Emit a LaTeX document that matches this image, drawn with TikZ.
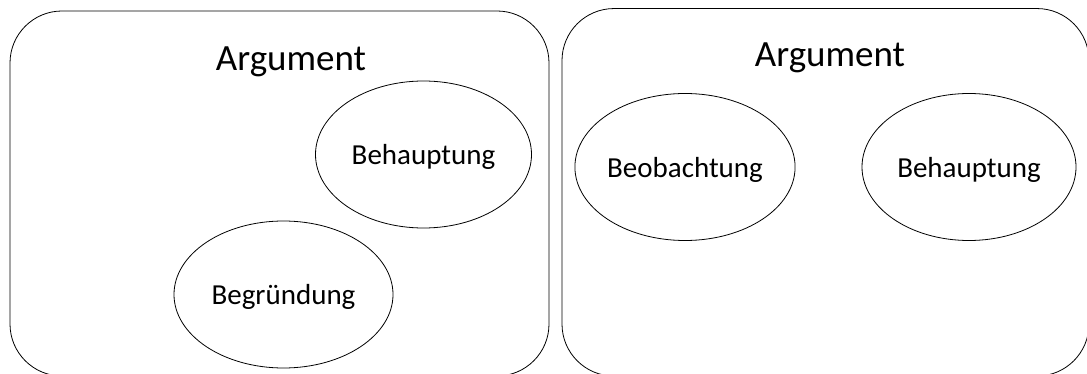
\documentclass[tikz,border=0pt]{standalone}
\usepackage{fontspec}
\setmainfont{Carlito}
\usetikzlibrary{shapes.geometric}
\begin{document}
\begin{tikzpicture}[x=1pt, y=-1pt, line width=0.8pt, node distance=284pt,
    argbox/.style={draw, rounded corners=52pt, inner sep=0pt},
    part/.style={ellipse, draw, inner sep=0pt, text depth=0pt, minimum width=216pt, minimum height=147pt, font=\fontsize{29}{34}\selectfont},
    title/.style={text depth=0pt, font=\fontsize{37}{44}\selectfont}]
    \useasboundingbox (0,0) rectangle (1087,374);

    % Define boxes
    \node[argbox, minimum width=539pt, minimum height=365pt] (boxL) at (279.5,193.5) {};
    \node[argbox, minimum width=527pt, minimum height=367.5pt] (boxR) at (825.5,192.3) {};

    % Titles
    \node[title] (argL) at (291,59) {Argument};
    \node[title] (argR) at (830,55) {Argument};

    % Parts of the left argument
    \node[part] (behL) at (423.5,154.5) {Behauptung};
    \node[part, minimum width=219pt] (begr) at (283.5,294.5) {Begründung};

    % Parts of the right argument
    \node[part, minimum width=214pt] (beob) at (685,167) {Beobachtung};
    \node[part, minimum width=214pt, right of=beob] (behR) {Behauptung};

\end{tikzpicture}
\end{document}
